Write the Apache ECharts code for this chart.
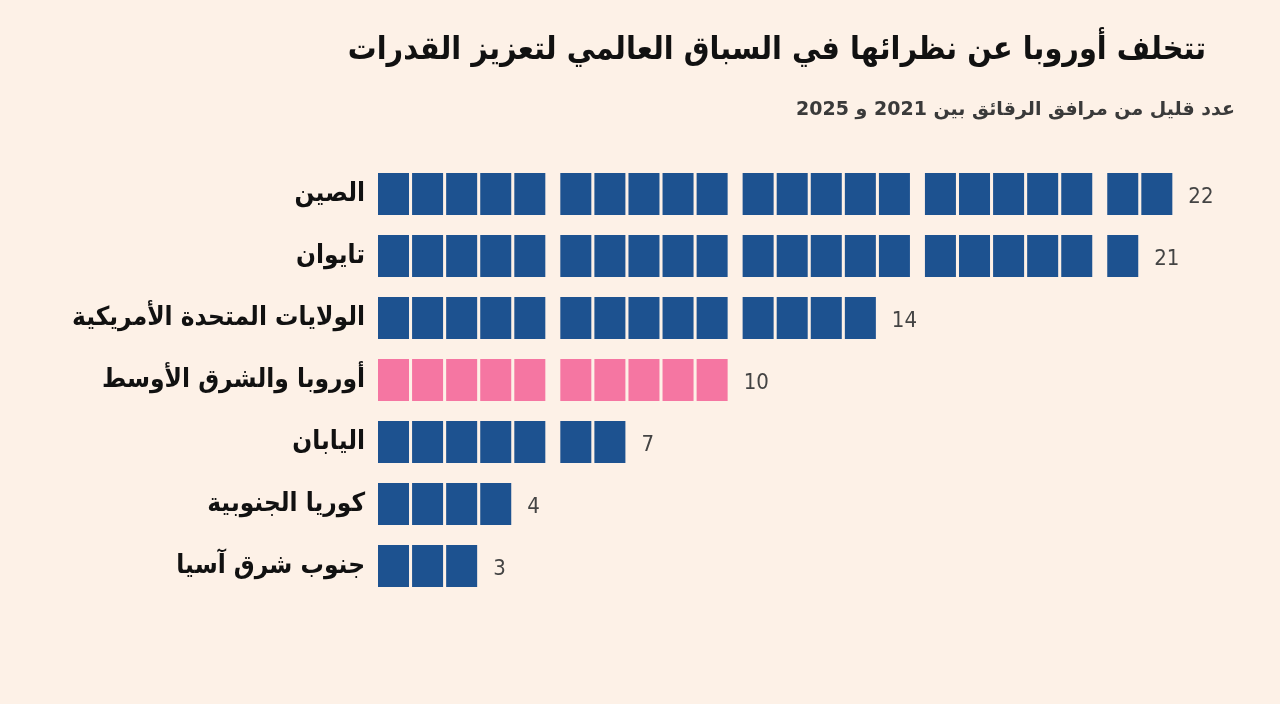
<!DOCTYPE html>
<html>
<head>
<meta charset="utf-8">
<script src="https://cdn.jsdelivr.net/npm/echarts@6/dist/echarts.min.js"></script>
<style>
    html, body {margin: 0; padding: 0; background: #fdf1e7;}
    #chart {width: 1280px; height: 704px;}
</style>
</head>
<body>
<div id="chart"></div>
<script>
// الفئات والقيم (عدد مرافق الرقائق)
let categories = ['الصين', 'تايوان', 'الولايات المتحدة الأمريكية', 'أوروبا والشرق الأوسط', 'اليابان', 'كوريا الجنوبية', 'جنوب شرق آسيا'];
let counts = [22, 21, 14, 10, 7, 4, 3];
let highlight = [false, false, false, true, false, false, false];//أوروبا باللون الوردي

let titleText = 'تتخلف أوروبا عن نظرائها في السباق العالمي لتعزيز القدرات';
let subText = 'عدد قليل من مرافق الرقائق بين 2021 و 2025';

let blue = '#1d5290';
let pink = '#f576a2';
let groupGap = 0.35;//فراغ بين كل خمس وحدات

// بناء بيانات الوحدات
let units = [];
for (let c = 0; c < categories.length; c++) {
    for (let i = 0; i < counts[c]; i++) {
        let xs = i + Math.floor(i / 5) * groupGap;
        units.push([xs, c, i === counts[c] - 1 ? counts[c] : 0, highlight[c] ? 1 : 0]);
    }
}

let myChart = echarts.init(document.getElementById('chart'));

function renderItem(params, api) {
    let pt = api.coord([api.value(0), api.value(1)]);
    let unit = api.size([1, 0])[0];
    let band = api.size([0, 1])[1];
    let h = band * 0.68;
    let w = unit * 0.91;
    let children = [{
        type: 'rect',
        shape: {x: pt[0], y: pt[1] - h / 2, width: w, height: h},
        style: {fill: api.value(3) ? pink : blue}
    }];
    if (api.value(2) > 0) {
        children.push({
            type: 'text',
            style: {
                x: pt[0] + w + 16,
                y: pt[1] + 3,
                text: String(api.value(2)),
                fill: '#444',
                fontSize: 22,
                fontFamily: 'DejaVu Sans Condensed',
                verticalAlign: 'middle',
                align: 'left'
            }
        });
    }
    return {type: 'group', children: children};
}

let option = {
    backgroundColor: '#fdf1e7',
    animation: false,
    title: [{
        text: titleText,
        right: 69,
        top: 30,
        textStyle: {fontSize: 32, fontWeight: 'bold', color: '#111', fontFamily: 'DejaVu Sans Condensed'}
    }, {
        text: subText,
        right: 40,
        top: 96,
        textStyle: {fontSize: 19, fontWeight: 'bold', color: '#3a3a3a', fontFamily: 'DejaVu Sans'}
    }],
    grid: {left: 378, right: 16, top: 163, bottom: 107},
    xAxis: {type: 'value', min: 0, max: 26, show: false},
    yAxis: {
        type: 'category',
        data: categories,
        inverse: true,
        axisLine: {show: false},
        axisTick: {show: false},
        splitLine: {show: false},
        axisLabel: {
            margin: 13,
            fontSize: 26,
            fontWeight: 'bold',
            color: '#111',
            fontFamily: 'DejaVu Sans Condensed'
        }
    },
    series: [{
        type: 'custom',
        renderItem: renderItem,
        encode: {x: 0, y: 1},
        data: units
    }]
};
myChart.setOption(option);
</script>
</body>
</html>
